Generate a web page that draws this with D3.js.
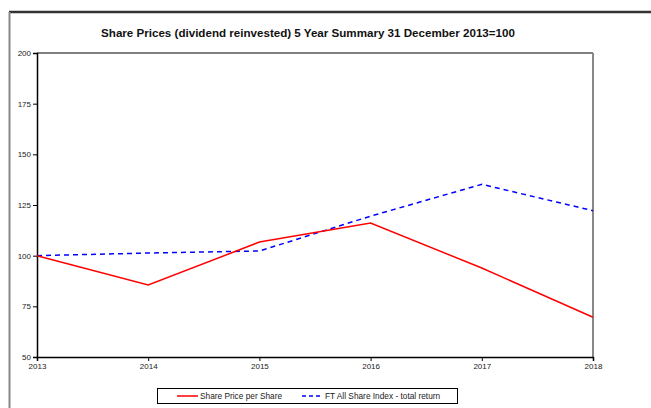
<!DOCTYPE html>
<meta charset="utf-8">
<style>
    body { margin: 0; background: #fff; }
    text { font-family: "Liberation Sans", Arial, sans-serif; fill: #222; }
</style>
<body>
    <svg width="651" height="408"></svg>
</body>
<script src="https://cdnjs.cloudflare.com/ajax/libs/d3/7.8.5/d3.min.js"></script>
<script>

    // data
    var years = [2013, 2014, 2015, 2016, 2017, 2018];
    var sharePrice = [100, 85.5, 106.7, 116.1, 93.9, 69.6];
    var ftIndex = [100, 101.3, 102.3, 119.5, 135.2, 122.2];
    var yTicks = [50, 75, 100, 125, 150, 175, 200];

    var svg = d3.select("svg");

    var margin = { left: 37, right: 58, top: 53, bottom: 51 },
        width = 651 - margin.left - margin.right,
        height = 408 - margin.top - margin.bottom;

    // outer frame (top and left edges of the page box)
    svg.append("line")
        .attr("x1", 9).attr("x2", 651).attr("y1", 12).attr("y2", 12)
        .style("stroke", "#333").style("stroke-width", 2.5);
    svg.append("line")
        .attr("x1", 9.5).attr("x2", 9.5).attr("y1", 12).attr("y2", 408)
        .style("stroke", "#888").style("stroke-width", 2);

    svg.append("text")
        .attr("x", 308).attr("y", 37)
        .attr("text-anchor", "middle")
        .style("font-weight", "bold")
        .style("font-size", "11.6px")
        .style("fill", "#111")
        .text("Share Prices (dividend reinvested) 5 Year Summary 31 December 2013=100");

    var g = svg.append("g")
        .attr("transform", "translate(" + margin.left + "," + margin.top + ")");

    var x = d3.scaleLinear().domain([2013, 2018]).range([0, width]);
    var y = d3.scaleLinear().domain([50, 200]).range([height, 0]);

    // plot box: top black, right grey
    g.append("line")
        .attr("x1", 0).attr("x2", width).attr("y1", 0).attr("y2", 0)
        .style("stroke", "#000").style("stroke-width", 1.2);
    g.append("line")
        .attr("x1", width).attr("x2", width).attr("y1", 0).attr("y2", height)
        .style("stroke", "#888").style("stroke-width", 2);

    var yAxis = g.append("g")
        .call(d3.axisLeft(y).tickValues(yTicks).tickSize(4).tickPadding(2));
    var xAxis = g.append("g")
        .attr("transform", "translate(0," + height + ")")
        .call(d3.axisBottom(x).tickValues(years).tickFormat(d3.format("d")).tickSize(4).tickPadding(2));

    [yAxis, xAxis].forEach(function(a){
        a.select(".domain").style("stroke", "#000").style("stroke-width", 1.5);
        a.selectAll(".tick line").style("stroke", "#000");
        a.selectAll("text").style("font-size", "8px").style("fill", "#222")
            .style("font-family", "'Liberation Sans', Arial, sans-serif");
    });

    var line = d3.line()
        .x(function(d, i) { return x(years[i]); })
        .y(function(d) { return y(d); });

    g.append("path")
        .datum(ftIndex)
        .attr("d", line)
        .style("fill", "none")
        .style("stroke", "#0000ff")
        .style("stroke-width", 1.5)
        .style("stroke-dasharray", "5,4");

    g.append("path")
        .datum(sharePrice)
        .attr("d", line)
        .style("fill", "none")
        .style("stroke", "#ff0000")
        .style("stroke-width", 1.5);

    // LEGEND
    var legend = svg.append("g").attr("transform", "translate(157,388)");
    legend.append("rect")
        .attr("x", 0.5).attr("y", 0.5).attr("width", 300).attr("height", 15)
        .style("fill", "#fff").style("stroke", "#000");

    var items = [
        { label: "Share Price per Share", color: "#ff0000", dash: null, x0: 20 },
        { label: "FT All Share Index - total return", color: "#0000ff", dash: "4,3", x0: 145 }
    ];
    items.forEach(function(it){
        legend.append("line")
            .attr("x1", it.x0).attr("x2", it.x0 + 21).attr("y1", 8).attr("y2", 8)
            .style("stroke", it.color).style("stroke-width", 1.5)
            .style("stroke-dasharray", it.dash);
        legend.append("text")
            .attr("x", it.x0 + 23).attr("y", 11)
            .style("font-size", "8.3px")
            .text(it.label);
    });

</script>
